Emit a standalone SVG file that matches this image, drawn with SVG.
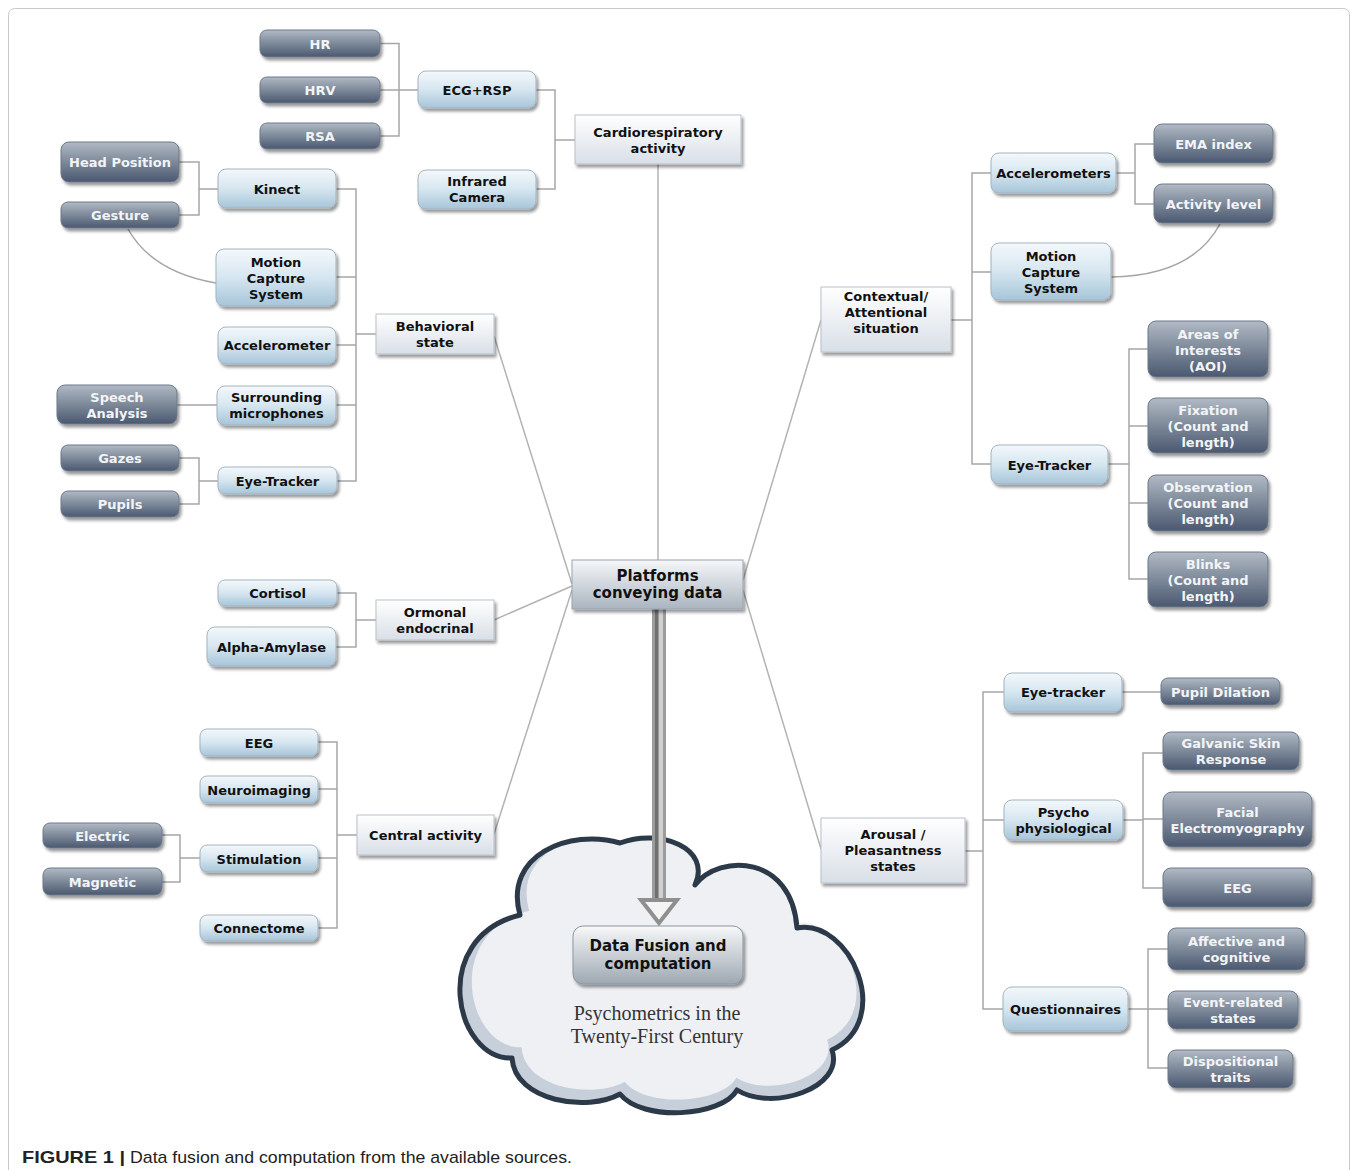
<svg xmlns="http://www.w3.org/2000/svg" width="1358" height="1170" viewBox="0 0 1358 1170">
<defs>
<linearGradient id="gCat" x1="0" y1="0" x2="0" y2="1"><stop offset="0" stop-color="#ffffff"/><stop offset="1" stop-color="#d9dfe7"/></linearGradient>
<linearGradient id="gL2" x1="0" y1="0" x2="0" y2="1"><stop offset="0" stop-color="#f4f8fb"/><stop offset="0.5" stop-color="#d6e6f0"/><stop offset="1" stop-color="#a7c5d9"/></linearGradient>
<linearGradient id="gL3" x1="0" y1="0" x2="0" y2="1"><stop offset="0" stop-color="#b1bac5"/><stop offset="0.5" stop-color="#7d8999"/><stop offset="1" stop-color="#4a5870"/></linearGradient>
<linearGradient id="gPlat" x1="0" y1="0" x2="0" y2="1"><stop offset="0" stop-color="#f6f7f9"/><stop offset="1" stop-color="#aab5c0"/></linearGradient>
<linearGradient id="gFus" x1="0" y1="0" x2="0" y2="1"><stop offset="0" stop-color="#f7f8f9"/><stop offset="1" stop-color="#9ea8b2"/></linearGradient>
<filter id="sh" x="-20%" y="-30%" width="140%" height="170%"><feDropShadow dx="2" dy="3" stdDeviation="1.6" flood-color="#000" flood-opacity="0.4"/></filter>
</defs>
<style>
.cat rect{fill:url(#gCat);stroke:#b9c0c8;stroke-width:1;filter:url(#sh)}
.l2 rect{fill:url(#gL2);stroke:#a3b3c0;stroke-width:1;filter:url(#sh)}
.l3 rect{fill:url(#gL3);stroke:#6d7a8a;stroke-width:1;filter:url(#sh)}
text{font-family:"DejaVu Sans",Verdana,sans-serif;font-weight:bold;font-size:13px;text-anchor:middle;fill:#111}
.l3 text{fill:#f2f4f7}
.big{font-size:15px}
.serif{font-family:"Liberation Serif","Times New Roman",serif;font-weight:normal;font-size:20px;fill:#333}
.conn line,.conn polyline,.conn path{stroke:#a6a6a6;stroke-width:1.5;fill:none}
.rad{stroke:#b3b3b3 !important}
</style>
<rect x="8.5" y="8.5" width="1341" height="1175" rx="6" fill="#fff" stroke="#c9c9c9" stroke-width="1"/>

<g class="conn" id="connectors">
<line class="rad" x1="658" y1="164" x2="658" y2="560"/>
<line class="rad" x1="494" y1="336" x2="572" y2="584"/>
<line class="rad" x1="494" y1="620" x2="572" y2="586"/>
<line class="rad" x1="494" y1="834" x2="572" y2="590"/>
<line class="rad" x1="821" y1="320" x2="743" y2="580"/>
<line class="rad" x1="821" y1="849" x2="743" y2="590"/>
<polyline points="380,43.5 399,43.5 399,136 380,136"/>
<line x1="380" y1="90" x2="418" y2="90"/>
<polyline points="536,90 555,90 555,189 536,189"/>
<line x1="555" y1="140" x2="575" y2="140"/>
<polyline points="179,162 199,162 199,215 179,215"/>
<line x1="199" y1="189" x2="218" y2="189"/>
<path d="M128,229 Q152,272 216,283"/>
<polyline points="336,189 356,189 356,481 336,481"/>
<line x1="336" y1="277" x2="356" y2="277"/>
<line x1="336" y1="345" x2="356" y2="345"/>
<line x1="336" y1="405" x2="356" y2="405"/>
<line x1="356" y1="334" x2="376" y2="334"/>
<line x1="177" y1="405" x2="217" y2="405"/>
<polyline points="179,458 199,458 199,504 179,504"/>
<line x1="199" y1="481" x2="218" y2="481"/>
<polyline points="337,593 356,593 356,647 336,647"/>
<line x1="356" y1="620" x2="376" y2="620"/>
<polyline points="318,742 337,742 337,928 318,928"/>
<line x1="318" y1="789" x2="337" y2="789"/>
<line x1="318" y1="858" x2="337" y2="858"/>
<line x1="337" y1="835" x2="357" y2="835"/>
<polyline points="162,835 180,835 180,882 162,882"/>
<line x1="180" y1="858" x2="200" y2="858"/>
<polyline points="991,173 972,173 972,464 991,464"/>
<line x1="972" y1="272" x2="991" y2="272"/>
<line x1="951" y1="320" x2="972" y2="320"/>
<polyline points="1154,144 1135,144 1135,204 1154,204"/>
<line x1="1116" y1="173" x2="1135" y2="173"/>
<path d="M1220,224 Q1192,276 1111,277"/>
<polyline points="1148,349 1129,349 1129,579 1148,579"/>
<line x1="1129" y1="426" x2="1148" y2="426"/>
<line x1="1129" y1="503" x2="1148" y2="503"/>
<line x1="1108" y1="464" x2="1129" y2="464"/>
<polyline points="1004,692 983,692 983,1009 1003,1009"/>
<line x1="983" y1="820" x2="1004" y2="820"/>
<line x1="965" y1="851" x2="983" y2="851"/>
<line x1="1122" y1="692" x2="1161" y2="692"/>
<polyline points="1163,753 1143,753 1143,888 1163,888"/>
<line x1="1143" y1="819" x2="1163" y2="819"/>
<line x1="1123" y1="820" x2="1143" y2="820"/>
<polyline points="1168,949 1148,949 1148,1068 1168,1068"/>
<line x1="1148" y1="1009" x2="1168" y2="1009"/>
<line x1="1128" y1="1009" x2="1148" y2="1009"/>
</g>

<g id="cloud">
<path d="M520,915 C503,855 570,828 620,843 C660,828 712,848 695,885 C720,853 792,855 797,928 C850,918 895,1020 832,1050 C845,1088 772,1112 737,1090 C722,1117 642,1122 620,1094 C588,1112 515,1102 512,1058 C455,1060 428,938 520,915 Z" fill="#c7d0da"/>
<path transform="translate(661 968) scale(0.955) translate(-658 -975)" d="M520,915 C503,855 570,828 620,843 C660,828 712,848 695,885 C720,853 792,855 797,928 C850,918 895,1020 832,1050 C845,1088 772,1112 737,1090 C722,1117 642,1122 620,1094 C588,1112 515,1102 512,1058 C455,1060 428,938 520,915 Z" fill="#eef0f3"/>
<path d="M520,915 C503,855 570,828 620,843 C660,828 712,848 695,885 C720,853 792,855 797,928 C850,918 895,1020 832,1050 C845,1088 772,1112 737,1090 C722,1117 642,1122 620,1094 C588,1112 515,1102 512,1058 C455,1060 428,938 520,915 Z" fill="none" stroke="#2c3948" stroke-width="5" stroke-linejoin="round"/>
<text class="serif" x="657" y="1020">Psychometrics in the</text>
<text class="serif" x="657" y="1043">Twenty-First Century</text>
</g>

<g id="arrow">
<rect x="652" y="609" width="14" height="291" fill="#9c9c9c"/>
<rect x="655" y="609" width="3" height="291" fill="#6f6f6f"/>
<rect x="659" y="609" width="4" height="291" fill="#cfcfcf"/>
<polygon points="641,900 677,900 659,923" fill="#f4f4f4" stroke="#8f8f8f" stroke-width="4" stroke-linejoin="miter"/>
</g>

<g id="fusion"><rect x="573" y="926" width="170" height="58" rx="10" fill="url(#gFus)" stroke="#8c96a0" filter="url(#sh)"/><text class="big" x="658" y="951">Data Fusion and</text><text class="big" x="658" y="969">computation</text></g>

<g id="platforms"><rect x="572" y="560" width="171" height="49" fill="url(#gPlat)" stroke="#9aa4ae" filter="url(#sh)"/><text class="big" x="657.5" y="581">Platforms</text><text class="big" x="657.5" y="598">conveying data</text></g>

<g id="cardio" class="cat"><rect x="575" y="115" width="166" height="49"/><text x="658" y="136.5">Cardiorespiratory</text><text x="658" y="152.5">activity</text></g>
<g id="behavioral" class="cat"><rect x="376" y="314" width="118" height="40"/><text x="435" y="331">Behavioral</text><text x="435" y="347">state</text></g>
<g id="ormonal" class="cat"><rect x="376" y="600" width="118" height="40"/><text x="435" y="617">Ormonal</text><text x="435" y="633">endocrinal</text></g>
<g id="central" class="cat"><rect x="357" y="815" width="137" height="40"/><text x="425.5" y="840">Central activity</text></g>
<g id="contextual" class="cat"><rect x="821" y="287" width="130" height="65"/><text x="886" y="301">Contextual/</text><text x="886" y="317">Attentional</text><text x="886" y="333">situation</text></g>
<g id="arousal" class="cat"><rect x="821" y="818" width="144" height="65"/><text x="893" y="839">Arousal /</text><text x="893" y="855">Pleasantness</text><text x="893" y="871">states</text></g>

<g id="ecg" class="l2"><rect x="418" y="71" width="118" height="37" rx="8"/><text x="477" y="94.5">ECG+RSP</text></g>
<g id="infrared" class="l2"><rect x="418" y="170" width="118" height="39" rx="8"/><text x="477" y="186">Infrared</text><text x="477" y="202">Camera</text></g>
<g id="kinect" class="l2"><rect x="218" y="169" width="118" height="39" rx="8"/><text x="277" y="193.5">Kinect</text></g>
<g id="mcsL" class="l2"><rect x="216" y="249" width="120" height="57" rx="8"/><text x="276" y="266.5">Motion</text><text x="276" y="282.5">Capture</text><text x="276" y="298.5">System</text></g>
<g id="accL" class="l2"><rect x="218" y="327" width="118" height="37" rx="8"/><text x="277" y="350">Accelerometer</text></g>
<g id="surround" class="l2"><rect x="217" y="386" width="119" height="39" rx="8"/><text x="276.5" y="402">Surrounding</text><text x="276.5" y="418">microphones</text></g>
<g id="eyeL" class="l2"><rect x="218" y="467" width="119" height="27" rx="7"/><text x="277.5" y="485.5">Eye-Tracker</text></g>
<g id="cortisol" class="l2"><rect x="218" y="580" width="119" height="26" rx="7"/><text x="277.5" y="598">Cortisol</text></g>
<g id="alpha" class="l2"><rect x="207" y="627" width="129" height="39" rx="8"/><text x="271.5" y="651.5">Alpha-Amylase</text></g>
<g id="eegL" class="l2"><rect x="200" y="729" width="118" height="27" rx="7"/><text x="259" y="747.5">EEG</text></g>
<g id="neuro" class="l2"><rect x="200" y="776" width="118" height="27" rx="7"/><text x="259" y="794.5">Neuroimaging</text></g>
<g id="stim" class="l2"><rect x="200" y="845" width="118" height="27" rx="7"/><text x="259" y="863.5">Stimulation</text></g>
<g id="connectome" class="l2"><rect x="200" y="915" width="118" height="26" rx="7"/><text x="259" y="933">Connectome</text></g>
<g id="accR" class="l2"><rect x="991" y="153" width="125" height="40" rx="8"/><text x="1053.5" y="178">Accelerometers</text></g>
<g id="mcsR" class="l2"><rect x="991" y="243" width="120" height="57" rx="8"/><text x="1051" y="260.5">Motion</text><text x="1051" y="276.5">Capture</text><text x="1051" y="292.5">System</text></g>
<g id="eyeR" class="l2"><rect x="991" y="445" width="117" height="39" rx="8"/><text x="1049.5" y="469.5">Eye-Tracker</text></g>
<g id="eyeA" class="l2"><rect x="1004" y="673" width="118" height="39" rx="8"/><text x="1063" y="697">Eye-tracker</text></g>
<g id="psycho" class="l2"><rect x="1004" y="800" width="119" height="40" rx="8"/><text x="1063.5" y="817">Psycho</text><text x="1063.5" y="833">physiological</text></g>
<g id="quest" class="l2"><rect x="1003" y="987" width="125" height="44" rx="9"/><text x="1065.5" y="1014">Questionnaires</text></g>

<g id="hr" class="l3"><rect x="260" y="30" width="120" height="27" rx="7"/><text x="320" y="48.5">HR</text></g>
<g id="hrv" class="l3"><rect x="260" y="77" width="120" height="26" rx="7"/><text x="320" y="95">HRV</text></g>
<g id="rsa" class="l3"><rect x="260" y="123" width="120" height="26" rx="7"/><text x="320" y="141">RSA</text></g>
<g id="headpos" class="l3"><rect x="61" y="142" width="118" height="40" rx="8"/><text x="120" y="167">Head Position</text></g>
<g id="gesture" class="l3"><rect x="61" y="202" width="118" height="26" rx="7"/><text x="120" y="220">Gesture</text></g>
<g id="speech" class="l3"><rect x="57" y="385" width="120" height="39" rx="8"/><text x="117" y="401.5">Speech</text><text x="117" y="417.5">Analysis</text></g>
<g id="gazes" class="l3"><rect x="61" y="445" width="118" height="26" rx="7"/><text x="120" y="463">Gazes</text></g>
<g id="pupils" class="l3"><rect x="61" y="491" width="118" height="26" rx="7"/><text x="120" y="509">Pupils</text></g>
<g id="electric" class="l3"><rect x="43" y="823" width="119" height="25" rx="7"/><text x="102.5" y="840.5">Electric</text></g>
<g id="magnetic" class="l3"><rect x="43" y="868" width="119" height="27" rx="7"/><text x="102.5" y="886.5">Magnetic</text></g>
<g id="ema" class="l3"><rect x="1154" y="124" width="119" height="39" rx="8"/><text x="1213.5" y="148.5">EMA index</text></g>
<g id="activity" class="l3"><rect x="1154" y="184" width="119" height="39" rx="8"/><text x="1213.5" y="208.5">Activity level</text></g>
<g id="aoi" class="l3"><rect x="1148" y="321" width="120" height="56" rx="8"/><text x="1208" y="339">Areas of</text><text x="1208" y="355">Interests</text><text x="1208" y="371">(AOI)</text></g>
<g id="fixation" class="l3"><rect x="1148" y="398" width="120" height="55" rx="8"/><text x="1208" y="415">Fixation</text><text x="1208" y="431">(Count and</text><text x="1208" y="447">length)</text></g>
<g id="observation" class="l3"><rect x="1148" y="475" width="120" height="56" rx="8"/><text x="1208" y="492">Observation</text><text x="1208" y="508">(Count and</text><text x="1208" y="524">length)</text></g>
<g id="blinks" class="l3"><rect x="1148" y="552" width="120" height="55" rx="8"/><text x="1208" y="569">Blinks</text><text x="1208" y="585">(Count and</text><text x="1208" y="601">length)</text></g>
<g id="pupild" class="l3"><rect x="1161" y="678" width="119" height="27" rx="7"/><text x="1220.5" y="696.5">Pupil Dilation</text></g>
<g id="gsr" class="l3"><rect x="1163" y="732" width="136" height="38" rx="8"/><text x="1231" y="748">Galvanic Skin</text><text x="1231" y="764">Response</text></g>
<g id="facial" class="l3"><rect x="1163" y="792" width="149" height="55" rx="9"/><text x="1237.5" y="816.5">Facial</text><text x="1237.5" y="832.5">Electromyography</text></g>
<g id="eegR" class="l3"><rect x="1163" y="868" width="149" height="39" rx="8"/><text x="1237.5" y="892.5">EEG</text></g>
<g id="affective" class="l3"><rect x="1168" y="928" width="137" height="42" rx="8"/><text x="1236.5" y="946">Affective and</text><text x="1236.5" y="962">cognitive</text></g>
<g id="event" class="l3"><rect x="1168" y="991" width="130" height="38" rx="8"/><text x="1233" y="1007">Event-related</text><text x="1233" y="1023">states</text></g>
<g id="disp" class="l3"><rect x="1168" y="1050" width="125" height="38" rx="8"/><text x="1230.5" y="1066">Dispositional</text><text x="1230.5" y="1082">traits</text></g>

<g id="caption">
<text x="22" y="1163" textLength="103" lengthAdjust="spacingAndGlyphs" style="font-family:'Liberation Sans Narrow','Liberation Sans',Arial,sans-serif;font-weight:bold;font-size:17px;text-anchor:start;fill:#222">FIGURE 1 |</text>
<text x="130" y="1163" textLength="442" lengthAdjust="spacingAndGlyphs" style="font-family:'Liberation Sans Narrow','Liberation Sans',Arial,sans-serif;font-weight:normal;font-size:17px;text-anchor:start;fill:#222">Data fusion and computation from the available sources.</text>
</g>
</svg>
